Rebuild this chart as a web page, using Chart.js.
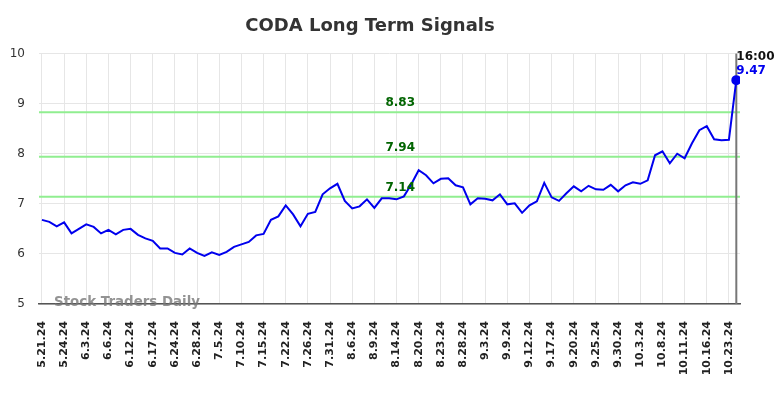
<!DOCTYPE html>
<html>
<head>
<meta charset="utf-8">
<script src="https://cdn.jsdelivr.net/npm/chart.js@4.4.0/dist/chart.umd.min.js"></script>
<style>
  html, body { margin: 0; padding: 0; background: #fff; }
  #wrap { width: 784px; height: 398px; }
</style>
</head>
<body>
<div id="wrap"><canvas id="chart"></canvas></div>
<script>
const tickLabels = ['5.21.24', '5.24.24', '6.3.24', '6.6.24', '6.12.24', '6.17.24', '6.24.24', '6.28.24',
  '7.5.24', '7.10.24', '7.15.24', '7.22.24', '7.26.24', '7.31.24', '8.6.24', '8.9.24', '8.14.24',
  '8.20.24', '8.23.24', '8.28.24', '9.3.24', '9.9.24', '9.12.24', '9.17.24', '9.20.24', '9.25.24',
  '9.30.24', '10.3.24', '10.8.24', '10.11.24', '10.16.24', '10.23.24'];

const prices = [
  6.68, 6.64, 6.55, 6.63, 6.41, 6.50, 6.59, 6.54, 6.41, 6.48,
  6.39, 6.48, 6.50, 6.38, 6.31, 6.26, 6.11, 6.11, 6.02, 5.99,
  6.11, 6.02, 5.96, 6.03, 5.98, 6.04, 6.14, 6.19, 6.24, 6.37,
  6.40, 6.68, 6.75, 6.97, 6.79, 6.55, 6.80, 6.84, 7.19, 7.31,
  7.40, 7.06, 6.91, 6.95, 7.09, 6.92, 7.11, 7.11, 7.09, 7.15,
  7.39, 7.67, 7.57, 7.41, 7.50, 7.51, 7.37, 7.33, 6.99, 7.11,
  7.10, 7.07, 7.19, 6.99, 7.01, 6.82, 6.97, 7.05, 7.42, 7.13,
  7.06, 7.21, 7.35, 7.25, 7.36, 7.29, 7.28, 7.38, 7.25, 7.37,
  7.43, 7.40, 7.47, 7.97, 8.05, 7.81, 8.00, 7.91, 8.21, 8.47,
  8.55, 8.29, 8.27, 8.28, 9.47
];

const signalLevels = [8.83, 7.94, 7.14];
const lastTime = '16:00';
const tickStep = 3;

const FONT = '"DejaVu Sans", sans-serif';

const overlay = {
    id: 'overlay',
    beforeDatasetsDraw(chart) {
        const {ctx, chartArea, scales: {x, y}} = chart;
        ctx.save();
        ctx.strokeStyle = '#90ee90';
        ctx.lineWidth = 2;
        signalLevels.forEach(v => {
            const py = y.getPixelForValue(v);
            ctx.beginPath();
            ctx.moveTo(chartArea.left, py);
            ctx.lineTo(chartArea.right, py);
            ctx.stroke();
        });
        const lx = x.getPixelForValue(prices.length - 1);
        ctx.strokeStyle = '#777';
        ctx.lineWidth = 2;
        ctx.beginPath();
        ctx.moveTo(lx, chartArea.top);
        ctx.lineTo(lx, chartArea.bottom);
        ctx.stroke();
        ctx.restore();
    },
    afterDraw(chart) {
        const {ctx, chartArea, scales: {x, y}} = chart;
        ctx.save();
        ctx.font = 'bold 12px ' + FONT;
        ctx.fillStyle = '#006400';
        ctx.textAlign = 'center';
        ctx.textBaseline = 'bottom';
        const mid = x.getPixelForValue(48.5);
        signalLevels.forEach(v => {
            ctx.fillText(v.toFixed(2), mid, y.getPixelForValue(v) - 3);
        });

        const last = prices.length - 1;
        const lx = x.getPixelForValue(last);
        const ly = y.getPixelForValue(prices[last]);
        ctx.textAlign = 'left';
        ctx.textBaseline = 'alphabetic';
        ctx.fillStyle = '#111';
        ctx.fillText(lastTime, lx, ly - 20);
        ctx.fillStyle = '#0000ee';
        ctx.fillText(prices[last].toFixed(2), lx, ly - 6);

        ctx.font = 'bold 13.4px ' + FONT;
        ctx.fillStyle = 'rgba(120,120,120,0.8)';
        ctx.textBaseline = 'middle';
        ctx.fillText('Stock Traders Daily', chartArea.left + 15, chartArea.bottom - 1);
        ctx.restore();
    }
};

new Chart(document.getElementById('chart'), {
    type: 'line',
    data: {
        datasets: [{
            data: prices.map((v, i) => ({x: i, y: v})),
            borderColor: '#0000ee',
            backgroundColor: '#0000ee',
            borderWidth: 2,
            tension: 0,
            pointRadius: ctx => ctx.dataIndex === prices.length - 1 ? 4 : 0,
            pointHoverRadius: 0
        }]
    },
    options: {
        responsive: true,
        maintainAspectRatio: false,
        animation: false,
        layout: { padding: { left: 0, right: 44, top: 0, bottom: 0 } },
        scales: {
            x: {
                type: 'linear',
                min: -0.4,
                max: 94.5,
                afterBuildTicks: scale => {
                    scale.ticks = tickLabels.map((_, i) => ({value: i * tickStep}));
                },
                afterFit: scale => { scale.height = 94; },
                grid: { color: '#e6e6e6', drawTicks: false },
                border: { color: '#555', width: 1.5 },
                ticks: {
                    autoSkip: false,
                    minRotation: 90,
                    maxRotation: 90,
                    padding: 17,
                    color: '#222',
                    font: { family: FONT, size: 11, weight: 'bold' },
                    callback: value => tickLabels[Math.round(value / tickStep)]
                }
            },
            y: {
                min: 5,
                max: 10,
                afterFit: scale => { scale.width = 39; },
                grid: { color: '#e6e6e6', drawTicks: false },
                border: { display: false },
                ticks: {
                    stepSize: 1,
                    padding: 14,
                    color: '#333',
                    font: { family: FONT, size: 12 }
                }
            }
        },
        plugins: {
            legend: { display: false },
            tooltip: { enabled: false },
            title: {
                display: true,
                text: 'CODA Long Term Signals',
                color: '#333',
                font: { family: FONT, size: 18, weight: 'bold' },
                padding: { top: 16, bottom: 16 }
            }
        }
    },
    plugins: [overlay]
});
</script>
</body>
</html>
